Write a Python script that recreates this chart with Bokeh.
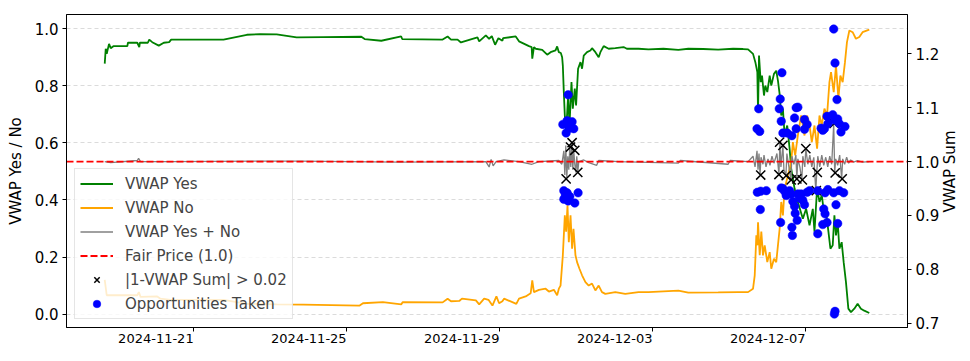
import math
import pandas as pd
from bokeh.plotting import figure
from bokeh.models import (Range1d, LinearAxis, FixedTicker, NumeralTickFormatter,
                          DatetimeTickFormatter, Legend, LegendItem, CustomJSTickFormatter)
from bokeh.embed import file_html
from bokeh.resources import INLINE

FONT = "DejaVu Sans"

# ---------------- data ----------------
yes_time = ["2024-11-18 16:11", "2024-11-18 16:49", "2024-11-18 17:26", "2024-11-18 18:53", "2024-11-18 19:56",
            "2024-11-18 21:37", "2024-11-19 06:23", "2024-11-19 06:45", "2024-11-19 12:37", "2024-11-19 13:52",
            "2024-11-19 14:15", "2024-11-19 19:15", "2024-11-19 20:07", "2024-11-19 22:00", "2024-11-20 02:07",
            "2024-11-20 05:15", "2024-11-20 08:37", "2024-11-20 09:52", "2024-11-21 18:45", "2024-11-22 09:22",
            "2024-11-22 17:41", "2024-11-23 04:07", "2024-11-23 16:37", "2024-11-24 09:15", "2024-11-25 09:15",
            "2024-11-25 11:19", "2024-11-25 21:45", "2024-11-26 10:15", "2024-11-26 10:52", "2024-11-27 12:15",
            "2024-11-27 15:22", "2024-11-27 17:30", "2024-11-27 21:37", "2024-11-27 23:45", "2024-11-28 10:07",
            "2024-11-28 11:11", "2024-11-28 15:22", "2024-11-28 17:26", "2024-11-28 19:07", "2024-11-28 21:11",
            "2024-11-28 23:15", "2024-11-29 01:45", "2024-11-29 02:11", "2024-11-29 10:07", "2024-11-29 12:11",
            "2024-11-29 18:26", "2024-11-29 20:07", "2024-11-29 20:30", "2024-11-29 21:33", "2024-11-29 22:37",
            "2024-11-30 02:45", "2024-11-30 05:52", "2024-11-30 08:00", "2024-11-30 11:07", "2024-11-30 12:07",
            "2024-11-30 13:11", "2024-11-30 14:26", "2024-11-30 15:15", "2024-11-30 15:41", "2024-11-30 16:18",
            "2024-11-30 16:56", "2024-11-30 17:45", "2024-11-30 19:00", "2024-11-30 19:52", "2024-11-30 21:07",
            "2024-11-30 21:56", "2024-11-30 23:11", "2024-12-01 00:00", "2024-12-01 01:15", "2024-12-01 02:45",
            "2024-12-01 03:45", "2024-12-01 04:48", "2024-12-01 06:52", "2024-12-01 09:00", "2024-12-01 10:00",
            "2024-12-01 12:07", "2024-12-01 14:11", "2024-12-01 15:15", "2024-12-01 17:19", "2024-12-01 20:26",
            "2024-12-02 00:37", "2024-12-02 05:48", "2024-12-02 07:52", "2024-12-02 15:11", "2024-12-02 21:26",
            "2024-12-03 06:48", "2024-12-03 16:11", "2024-12-03 22:26", "2024-12-04 07:48", "2024-12-04 17:11",
            "2024-12-05 02:33", "2024-12-05 08:48", "2024-12-05 11:56", "2024-12-05 15:03", "2024-12-05 16:30",
            "2024-12-05 17:45", "2024-12-05 18:11", "2024-12-05 18:48", "2024-12-05 19:52", "2024-12-05 20:41",
            "2024-12-05 21:56", "2024-12-05 22:45", "2024-12-06 00:00", "2024-12-06 01:30", "2024-12-06 02:30",
            "2024-12-06 04:11", "2024-12-06 05:37", "2024-12-06 06:41", "2024-12-06 07:45", "2024-12-06 08:45",
            "2024-12-06 09:48", "2024-12-06 10:52", "2024-12-06 12:30", "2024-12-06 14:00", "2024-12-06 15:00",
            "2024-12-06 17:07", "2024-12-06 19:11", "2024-12-06 22:19", "2024-12-07 00:22", "2024-12-07 02:30",
            "2024-12-07 04:33", "2024-12-07 05:37", "2024-12-07 07:15", "2024-12-07 08:45", "2024-12-07 10:11",
            "2024-12-07 11:52", "2024-12-07 12:52", "2024-12-07 14:22", "2024-12-07 15:37", "2024-12-07 17:03",
            "2024-12-07 18:07", "2024-12-07 19:07", "2024-12-07 20:11", "2024-12-07 21:15", "2024-12-07 22:41",
            "2024-12-07 23:56", "2024-12-08 01:22", "2024-12-08 02:52", "2024-12-08 04:30", "2024-12-08 06:37",
            "2024-12-08 08:41", "2024-12-08 10:45", "2024-12-08 12:52", "2024-12-08 16:00"]
yes_vwap = [0.878, 0.930, 0.912, 0.947, 0.932,
            0.939, 0.939, 0.951, 0.951, 0.936,
            0.951, 0.951, 0.962, 0.953, 0.941,
            0.951, 0.953, 0.962, 0.962, 0.979,
            0.981, 0.980, 0.970, 0.971, 0.972,
            0.964, 0.958, 0.973, 0.964, 0.962,
            0.973, 0.962, 0.962, 0.952, 0.970,
            0.956, 0.977, 0.965, 0.974, 0.944,
            0.967, 0.958, 0.967, 0.973, 0.956,
            0.939, 0.936, 0.895, 0.936, 0.930,
            0.926, 0.909, 0.918, 0.924, 0.938,
            0.918, 0.915, 0.900, 0.871, 0.778,
            0.696, 0.638, 0.766, 0.661, 0.813,
            0.720, 0.790, 0.731, 0.860, 0.883,
            0.860, 0.906, 0.918, 0.924, 0.932,
            0.918, 0.900, 0.918, 0.939, 0.930,
            0.932, 0.936, 0.930, 0.930, 0.928,
            0.930, 0.926, 0.930, 0.929, 0.927,
            0.930, 0.929, 0.928, 0.912, 0.883,
            0.848, 0.708, 0.906, 0.813, 0.836,
            0.766, 0.801, 0.778, 0.836, 0.801,
            0.842, 0.853, 0.818, 0.771, 0.696,
            0.720, 0.627, 0.661, 0.580, 0.510,
            0.440, 0.393, 0.334, 0.369, 0.311,
            0.369, 0.289, 0.440, 0.393, 0.416,
            0.346, 0.357, 0.289, 0.229, 0.241,
            0.346, 0.276, 0.322, 0.229, 0.252,
            0.182, 0.112, 0.019, 0.007, 0.019,
            0.036, 0.019, 0.012, 0.004]

no_time = ["2024-11-18 16:11", "2024-11-18 17:26", "2024-11-18 19:56", "2024-11-19 12:37", "2024-11-19 13:37",
           "2024-11-19 14:41", "2024-11-20 01:07", "2024-11-20 03:11", "2024-11-20 09:26", "2024-11-21 18:45",
           "2024-11-22 09:22", "2024-11-23 04:07", "2024-11-23 20:45", "2024-11-25 08:11", "2024-11-25 10:15",
           "2024-11-25 22:45", "2024-11-26 10:15", "2024-11-26 11:15", "2024-11-27 12:15", "2024-11-27 15:22",
           "2024-11-27 17:30", "2024-11-27 22:41", "2024-11-28 00:22", "2024-11-28 09:07", "2024-11-28 11:11",
           "2024-11-28 14:19", "2024-11-28 17:00", "2024-11-28 19:30", "2024-11-28 22:00", "2024-11-28 23:41",
           "2024-11-29 01:45", "2024-11-29 02:48", "2024-11-29 10:30", "2024-11-29 12:11", "2024-11-29 16:22",
           "2024-11-29 19:30", "2024-11-29 20:30", "2024-11-29 21:33", "2024-11-30 00:41", "2024-11-30 04:52",
           "2024-11-30 06:56", "2024-11-30 10:03", "2024-11-30 12:07", "2024-11-30 13:11", "2024-11-30 14:15",
           "2024-11-30 15:41", "2024-11-30 16:56", "2024-11-30 17:45", "2024-11-30 18:37", "2024-11-30 19:26",
           "2024-11-30 20:30", "2024-11-30 21:30", "2024-11-30 22:22", "2024-11-30 23:37", "2024-12-01 00:37",
           "2024-12-01 02:07", "2024-12-01 03:45", "2024-12-01 05:52", "2024-12-01 07:56", "2024-12-01 10:00",
           "2024-12-01 12:07", "2024-12-01 14:11", "2024-12-01 16:15", "2024-12-01 18:22", "2024-12-02 00:37",
           "2024-12-02 06:52", "2024-12-02 15:11", "2024-12-02 21:26", "2024-12-03 16:11", "2024-12-03 22:26",
           "2024-12-04 17:11", "2024-12-05 05:41", "2024-12-05 11:56", "2024-12-05 15:03", "2024-12-05 16:07",
           "2024-12-05 17:07", "2024-12-05 17:45", "2024-12-05 18:11", "2024-12-05 19:15", "2024-12-05 20:15",
           "2024-12-05 21:18", "2024-12-05 22:22", "2024-12-06 00:00", "2024-12-06 01:30", "2024-12-06 02:30",
           "2024-12-06 04:11", "2024-12-06 05:37", "2024-12-06 06:41", "2024-12-06 07:45", "2024-12-06 08:45",
           "2024-12-06 09:48", "2024-12-06 10:52", "2024-12-06 12:56", "2024-12-06 15:00", "2024-12-06 16:03",
           "2024-12-06 17:30", "2024-12-06 19:11", "2024-12-06 21:15", "2024-12-06 23:22", "2024-12-07 01:00",
           "2024-12-07 02:30", "2024-12-07 03:56", "2024-12-07 05:37", "2024-12-07 07:15", "2024-12-07 08:45",
           "2024-12-07 10:11", "2024-12-07 11:52", "2024-12-07 13:30", "2024-12-07 15:00", "2024-12-07 16:00",
           "2024-12-07 17:41", "2024-12-07 19:07", "2024-12-07 20:37", "2024-12-07 21:52", "2024-12-07 23:18",
           "2024-12-08 00:45", "2024-12-08 02:00", "2024-12-08 03:30", "2024-12-08 05:33", "2024-12-08 07:37",
           "2024-12-08 09:45", "2024-12-08 11:48", "2024-12-08 16:00"]
no_vwap = [0.120, 0.066, 0.066, 0.066, 0.077,
           0.060, 0.062, 0.054, 0.050, 0.050,
           0.036, 0.034, 0.033, 0.030, 0.038,
           0.042, 0.034, 0.042, 0.041, 0.054,
           0.045, 0.046, 0.054, 0.048, 0.034,
           0.054, 0.050, 0.030, 0.062, 0.038,
           0.045, 0.054, 0.036, 0.054, 0.062,
           0.073, 0.118, 0.077, 0.085, 0.089,
           0.079, 0.085, 0.066, 0.089, 0.100,
           0.206, 0.346, 0.289, 0.381, 0.252,
           0.346, 0.229, 0.299, 0.206, 0.182,
           0.159, 0.136, 0.112, 0.100, 0.107,
           0.083, 0.100, 0.077, 0.071, 0.077,
           0.071, 0.077, 0.077, 0.082, 0.075,
           0.076, 0.077, 0.077, 0.089, 0.136,
           0.276, 0.241, 0.322, 0.206, 0.289,
           0.206, 0.241, 0.182, 0.217, 0.159,
           0.194, 0.182, 0.241, 0.299, 0.393,
           0.346, 0.440, 0.486, 0.533, 0.603,
           0.556, 0.626, 0.696, 0.626, 0.696,
           0.661, 0.603, 0.661, 0.580, 0.696,
           0.661, 0.720, 0.696, 0.813, 0.848,
           0.778, 0.871, 0.755, 0.836, 0.813,
           0.883, 0.953, 0.994, 0.988, 0.965,
           0.971, 0.988, 0.997]

sum_time = ["2024-11-18 16:11", "2024-11-18 19:56", "2024-11-19 12:37", "2024-11-19 13:26", "2024-11-19 14:41",
            "2024-11-20 09:26", "2024-11-23 18:41", "2024-11-26 09:11", "2024-11-28 15:22", "2024-11-28 17:26",
            "2024-11-28 18:41", "2024-11-28 19:56", "2024-11-28 21:48", "2024-11-29 02:48", "2024-11-29 12:11",
            "2024-11-29 20:18", "2024-11-30 00:41", "2024-11-30 13:11", "2024-11-30 15:03", "2024-11-30 16:18",
            "2024-11-30 16:56", "2024-11-30 17:33", "2024-11-30 18:11", "2024-11-30 18:48", "2024-11-30 19:26",
            "2024-11-30 20:03", "2024-11-30 20:41", "2024-11-30 21:18", "2024-11-30 21:56", "2024-11-30 22:33",
            "2024-11-30 23:11", "2024-11-30 23:48", "2024-12-01 00:26", "2024-12-01 01:03", "2024-12-01 01:41",
            "2024-12-01 04:48", "2024-12-01 07:56", "2024-12-01 12:56", "2024-12-01 14:11", "2024-12-02 02:41",
            "2024-12-03 16:11", "2024-12-03 17:26", "2024-12-04 23:26", "2024-12-05 00:41", "2024-12-05 11:56",
            "2024-12-05 15:03", "2024-12-05 16:18", "2024-12-05 17:33", "2024-12-05 18:11", "2024-12-05 18:48",
            "2024-12-05 19:26", "2024-12-05 20:03", "2024-12-05 21:18", "2024-12-05 21:56", "2024-12-05 23:11",
            "2024-12-06 00:26", "2024-12-06 01:41", "2024-12-06 02:56", "2024-12-06 04:11", "2024-12-06 06:03",
            "2024-12-06 07:18", "2024-12-06 07:56", "2024-12-06 08:33", "2024-12-06 09:48", "2024-12-06 10:26",
            "2024-12-06 11:41", "2024-12-06 12:18", "2024-12-06 13:33", "2024-12-06 14:48", "2024-12-06 15:26",
            "2024-12-06 16:41", "2024-12-06 17:56", "2024-12-06 18:33", "2024-12-06 19:11", "2024-12-06 20:26",
            "2024-12-06 21:41", "2024-12-06 22:18", "2024-12-06 23:33", "2024-12-07 00:11", "2024-12-07 01:26",
            "2024-12-07 02:41", "2024-12-07 03:56", "2024-12-07 05:11", "2024-12-07 06:26", "2024-12-07 07:03",
            "2024-12-07 07:41", "2024-12-07 08:56", "2024-12-07 10:11", "2024-12-07 11:26", "2024-12-07 12:41",
            "2024-12-07 13:56", "2024-12-07 15:11", "2024-12-07 16:26", "2024-12-07 17:41", "2024-12-07 18:18",
            "2024-12-07 18:56", "2024-12-07 20:11", "2024-12-07 21:26", "2024-12-07 22:41", "2024-12-07 23:18",
            "2024-12-08 00:33", "2024-12-08 01:48", "2024-12-08 03:03", "2024-12-08 04:18", "2024-12-08 06:11",
            "2024-12-08 08:41", "2024-12-08 11:41", "2024-12-08 16:00"]
sum_vwap = [1.000, 0.998, 1.002, 1.006, 1.000,
            1.000, 1.001, 0.999, 1.000, 0.990,
            1.004, 0.992, 1.000, 1.003, 1.000,
            0.995, 1.000, 1.002, 0.995, 1.020,
            0.975, 1.030, 0.970, 1.010, 0.985,
            1.027, 0.990, 1.035, 0.985, 1.020,
            0.995, 0.980, 1.010, 0.980, 1.000,
            1.003, 0.998, 0.993, 1.002, 1.000,
            0.997, 1.002, 0.995, 1.002, 1.000,
            1.010, 0.990, 1.020, 0.985, 1.015,
            0.975, 1.008, 0.995, 1.012, 0.990,
            1.005, 0.993, 1.010, 0.997, 1.015,
            0.976, 1.036, 0.990, 1.030, 0.985,
            0.974, 1.015, 0.990, 0.966, 1.010,
            0.995, 1.012, 0.968, 1.005, 0.990,
            0.966, 1.010, 0.990, 1.024, 0.995,
            1.012, 0.990, 1.008, 0.946, 0.980,
            1.010, 0.990, 1.012, 0.993, 1.008,
            0.990, 1.010, 0.995, 1.071, 0.979,
            1.005, 0.993, 1.012, 0.968, 1.005,
            0.995, 1.008, 0.997, 1.003, 0.999,
            1.002, 0.999, 1.000]

flag_time = ["2024-11-30 17:45", "2024-11-30 20:30", "2024-11-30 21:30", "2024-11-30 23:11", "2024-12-01 01:03",
             "2024-12-05 19:52", "2024-12-06 07:18", "2024-12-06 07:45", "2024-12-06 09:48", "2024-12-06 11:52",
             "2024-12-06 15:00", "2024-12-06 18:33", "2024-12-06 22:00", "2024-12-07 00:11", "2024-12-07 06:45",
             "2024-12-07 07:22", "2024-12-07 18:00", "2024-12-07 18:37", "2024-12-07 23:00"]
flag_sum = [0.968, 1.027, 1.035, 1.021, 0.980,
            0.975, 0.976, 1.036, 1.030, 0.974,
            0.966, 0.968, 0.966, 1.024, 0.946,
            0.980, 1.071, 0.979, 0.968]

opp_time = ["2024-11-30 19:00", "2024-11-30 15:41", "2024-11-30 18:22", "2024-11-30 21:30", "2024-11-30 19:52",
            "2024-11-30 22:33", "2024-11-30 17:45", "2024-11-30 16:18", "2024-11-30 18:22", "2024-12-01 01:15",
            "2024-11-30 16:18", "2024-11-30 19:00", "2024-11-30 23:11", "2024-11-30 20:03", "2024-11-30 17:15",
            "2024-12-05 18:37", "2024-12-05 17:33", "2024-12-05 19:15", "2024-12-05 17:45", "2024-12-05 19:52",
            "2024-12-05 23:22", "2024-12-05 19:37", "2024-12-06 09:11", "2024-12-06 08:07", "2024-12-06 07:30",
            "2024-12-06 09:48", "2024-12-06 12:30", "2024-12-06 15:26", "2024-12-06 18:07", "2024-12-06 17:07",
            "2024-12-06 18:07", "2024-12-06 23:22", "2024-12-07 01:00", "2024-12-06 23:22", "2024-12-06 08:22",
            "2024-12-06 08:45", "2024-12-06 10:52", "2024-12-06 11:52", "2024-12-06 15:00", "2024-12-06 16:03",
            "2024-12-06 17:07", "2024-12-06 17:30", "2024-12-06 18:45", "2024-12-06 15:26", "2024-12-06 15:45",
            "2024-12-06 21:15", "2024-12-06 22:19", "2024-12-06 23:22", "2024-12-06 20:15", "2024-12-07 01:00",
            "2024-12-07 07:41", "2024-12-07 09:45", "2024-12-07 10:48", "2024-12-07 11:52", "2024-12-07 13:30",
            "2024-12-07 14:00", "2024-12-07 17:41", "2024-12-07 18:30", "2024-12-07 19:45", "2024-12-07 17:03",
            "2024-12-07 20:11", "2024-12-07 22:15", "2024-12-08 00:45", "2024-12-07 11:26", "2024-12-07 12:15",
            "2024-12-07 10:48", "2024-12-07 13:30", "2024-12-07 12:15", "2024-12-07 14:00", "2024-12-07 17:41",
            "2024-12-07 19:07", "2024-12-07 20:11", "2024-12-07 21:15", "2024-12-07 23:56", "2024-12-07 18:30",
            "2024-12-07 18:07", "2024-12-06 09:48", "2024-12-06 14:00", "2024-12-06 19:11", "2024-12-07 02:30",
            "2024-12-07 07:41", "2024-12-06 19:11", "2024-12-06 08:45", "2024-12-07 18:07", "2024-12-07 21:15"]
opp_sum = [1.124, 1.069, 1.076, 1.074, 1.062,
           1.061, 1.053, 0.946, 0.942, 0.942,
           0.930, 0.927, 0.923, 0.935, 0.938,
           1.098, 1.061, 1.056, 0.943, 0.945,
           0.946, 0.911, 1.165, 1.116, 1.098,
           1.053, 1.053, 1.048, 1.100, 1.081,
           1.061, 1.078, 1.069, 1.060, 0.887,
           0.951, 0.945, 0.937, 0.940, 0.926,
           0.917, 0.904, 0.891, 0.878, 0.863,
           0.940, 0.928, 0.920, 0.932, 0.943,
           0.866, 1.062, 1.058, 1.061, 1.084,
           1.070, 1.246, 1.183, 1.115, 1.087,
           1.079, 1.055, 1.065, 0.912, 0.903,
           0.883, 0.887, 0.942, 0.948, 0.942,
           0.920, 0.885, 0.946, 0.942, 0.722,
           0.717, 0.950, 0.946, 0.940, 0.946,
           0.946, 1.101, 1.075, 1.077, 1.070]

fair_price = 1.0
x_ticks = ["2024-11-21", "2024-11-25", "2024-11-29", "2024-12-03", "2024-12-07"]
left_ticks = [0.0, 0.2, 0.4, 0.6, 0.8, 1.0]
right_ticks = [0.7, 0.8, 0.9, 1.0, 1.1, 1.2]
left_lim = (-0.047, 1.05)
right_lim = (0.692, 1.273)
right_title = "VWAP Sum"

# ---------------- figure ----------------
W, H = 970, 361
BL, BR, BT, BB = 66, 61, 14, 34
FRAME_H = H - BT - BB

yt = pd.to_datetime(yes_time)
nt = pd.to_datetime(no_time)
st = pd.to_datetime(sum_time)
ft = pd.to_datetime(flag_time)
ot = pd.to_datetime(opp_time)

tmin = min(yt.min(), nt.min(), st.min())
tmax = max(yt.max(), nt.max(), st.max())
pad = (tmax - tmin) * 0.05
x0 = (tmin - pad).to_pydatetime()
x1 = (tmax + pad).to_pydatetime()

p = figure(width=W, height=H, x_axis_type="datetime",
           x_range=Range1d(x0, x1), y_range=Range1d(*left_lim),
           output_backend="svg", toolbar_location=None,
           min_border_left=BL, min_border_right=BR, min_border_top=BT, min_border_bottom=BB)
p.extra_y_ranges = {"sum": Range1d(*right_lim)}

p.background_fill_color = "white"
p.border_fill_color = "white"
p.outline_line_color = "black"
p.outline_line_width = 1
p.outline_line_alpha = 1.0

p.xgrid.visible = False
p.ygrid.grid_line_color = "#b0b0b0"
p.ygrid.grid_line_alpha = 0.45
p.ygrid.grid_line_dash = "4 3"
p.ygrid.grid_line_width = 1

r_yes = p.line(yt, yes_vwap, line_color="#008000", line_width=1.8)
r_no = p.line(nt, no_vwap, line_color="#FFA500", line_width=1.8)
r_sum = p.line(st, sum_vwap, line_color="#808080", line_width=1.3, y_range_name="sum")
r_fair = p.line([x0, x1], [fair_price, fair_price], line_color="#FF0000", line_width=1.8,
                line_dash="7 3", y_range_name="sum")
r_flag = p.scatter(ft, flag_sum, marker="x", size=13, line_color="black", line_width=1.5,
                   y_range_name="sum")
r_opp = p.scatter(ot, opp_sum, marker="circle", size=8.5, fill_color="#0000FF",
                  line_color="#0000FF", line_width=0.5, y_range_name="sum")

# axes
xa = p.xaxis[0]
xa.ticker = FixedTicker(ticks=[pd.Timestamp(t).value / 1e6 for t in x_ticks])
xa.formatter = DatetimeTickFormatter(days="%Y-%m-%d", months="%Y-%m-%d", hours="%Y-%m-%d")
xa.major_label_text_font_size = "13px"
# a (visually nil) positive angle makes Bokeh anchor each label's right end at its tick
xa.major_label_orientation = 0.0001

ya = p.yaxis[0]
ya.ticker = FixedTicker(ticks=left_ticks)
ya.formatter = NumeralTickFormatter(format="0.0")
ya.axis_label = "VWAP Yes / No"
ya.major_label_text_font_size = "15px"

ax2 = LinearAxis(y_range_name="sum",
                 ticker=FixedTicker(ticks=right_ticks),
                 formatter=NumeralTickFormatter(format="0.0"))
ax2.major_label_text_font_size = "15px"
p.add_layout(ax2, "right")

for ax in (xa, ya, ax2):
    ax.axis_line_color = "black"
    ax.major_tick_line_color = "black"
    ax.major_tick_out = 4
    ax.major_tick_in = 0
    ax.minor_tick_out = 0
    ax.minor_tick_in = 0
    ax.major_label_standoff = 4
    ax.major_label_text_font = FONT
    ax.major_label_text_color = "black"
    ax.axis_label_text_font = FONT
    ax.axis_label_text_font_size = "15px"
    ax.axis_label_text_font_style = "normal"
    ax.axis_label_text_color = "black"
    ax.axis_label_standoff = 7
xa.major_label_standoff = 7

# Right-hand title "VWAP Sum", reading bottom-to-top like matplotlib's twin axis.
# Bokeh starts such rotated text at the tick, so the single tick sits half the
# text length below the vertical middle of the frame.
lo, hi = right_lim
half_text_px = 41.5
anchor = (lo + hi) / 2 - half_text_px * (hi - lo) / FRAME_H
ax_title = LinearAxis(y_range_name="sum", ticker=FixedTicker(ticks=[anchor]),
                      formatter=CustomJSTickFormatter(args=dict(label=right_title),
                                                      code="return label"))
ax_title.axis_line_color = None
ax_title.major_tick_out = 0
ax_title.major_tick_in = 0
ax_title.minor_tick_out = 0
ax_title.minor_tick_in = 0
ax_title.major_label_orientation = math.pi / 2
ax_title.major_label_standoff = 7
ax_title.major_label_text_font = FONT
ax_title.major_label_text_font_size = "15px"
ax_title.major_label_text_color = "black"
p.add_layout(ax_title, "right")

legend = Legend(items=[
    LegendItem(label="VWAP Yes", renderers=[r_yes]),
    LegendItem(label="VWAP No", renderers=[r_no]),
    LegendItem(label="VWAP Yes + No", renderers=[r_sum]),
    LegendItem(label="Fair Price (1.0)", renderers=[r_fair]),
    LegendItem(label="|1-VWAP Sum| > 0.02", renderers=[r_flag]),
    LegendItem(label="Opportunities Taken", renderers=[r_opp]),
], location=(8, 8))
legend.label_text_font = FONT
legend.label_text_font_size = "15px"
legend.glyph_width = 33
legend.glyph_height = 19
legend.label_height = 19
legend.spacing = 5
legend.padding = 5
legend.margin = 0
legend.label_standoff = 12
legend.border_line_color = "#cccccc"
legend.border_line_width = 1
legend.background_fill_color = "white"
legend.background_fill_alpha = 0.8
p.add_layout(legend)

open("out.html", "w").write(file_html(p, INLINE))
